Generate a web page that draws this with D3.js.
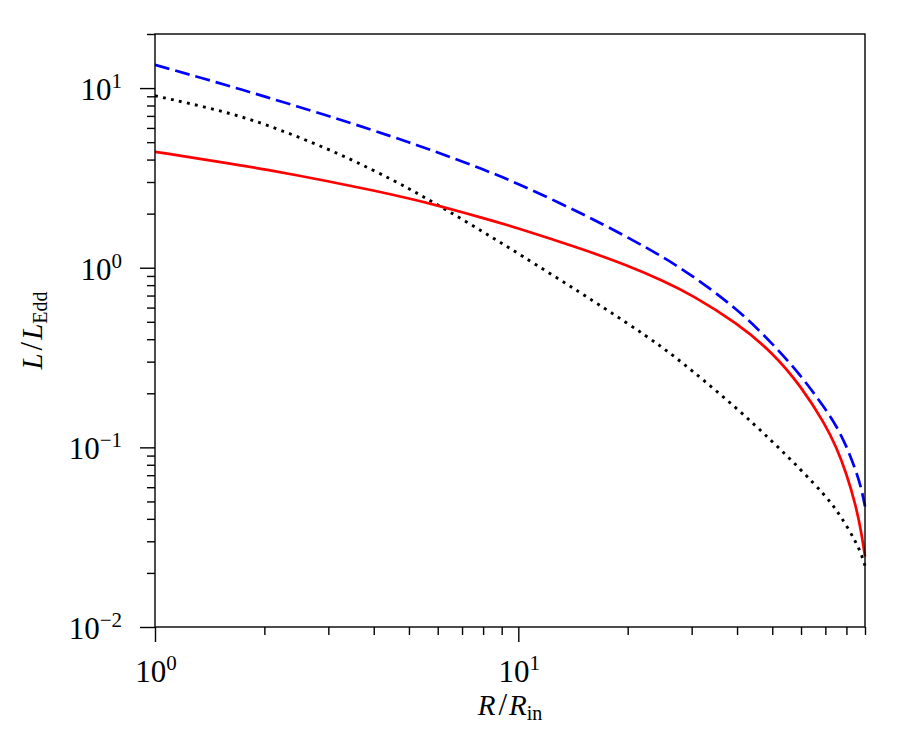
<!DOCTYPE html>
<html lang="en">
<head>
    <meta charset="utf-8">
    <title>L / L_Edd vs R / R_in</title>
    <script type="text/javascript" src="https://cdn.jsdelivr.net/npm/d3@7/dist/d3.min.js"></script>
    <style>
      body { margin: 0; background: #fff; }
      text { font-family: "Liberation Serif", "DejaVu Serif", serif; fill: #000; }
    </style>
</head>

<body>

  <script>
  	var w = 900;
  	var h = 750;

  	var radius = [1, 1.5, 2, 3, 4, 5, 6, 8, 10, 15, 20, 25, 30, 40, 50, 60, 70, 75, 80, 85, 88, 90];

  	// blue dashed
  	var lum_dashed = [13.46, 10.69, 8.99, 7.00, 5.81, 4.99, 4.39, 3.53, 2.94, 2.00, 1.48, 1.148, 0.910, 0.592, 0.380, 0.251, 0.164, 0.132, 0.102, 0.0741, 0.0589, 0.0468];
  	// red solid
  	var lum_solid = [4.42, 3.89, 3.54, 3.03, 2.69, 2.43, 2.22, 1.89, 1.66, 1.27, 1.03, 0.847, 0.708, 0.492, 0.339, 0.219, 0.134, 0.1007, 0.0719, 0.0471, 0.0335, 0.0247];
  	// black dotted
  	var lum_dotted = [9.06, 7.55, 6.35, 4.59, 3.49, 2.76, 2.24, 1.585, 1.20, 0.716, 0.490, 0.360, 0.269, 0.165, 0.108, 0.0750, 0.0538, 0.0450, 0.0368, 0.0296, 0.0254, 0.0219];

  	var x_major = [1, 10];
  	var x_minor = [2, 3, 4, 5, 6, 7, 8, 9, 20, 30, 40, 50, 60, 70, 80, 90];
  	var y_major = [0.01, 0.1, 1, 10];
  	var y_minor = [0.02, 0.03, 0.04, 0.05, 0.06, 0.07, 0.08, 0.09,
  	               0.2, 0.3, 0.4, 0.5, 0.6, 0.7, 0.8, 0.9,
  	               2, 3, 4, 5, 6, 7, 8, 9, 20];
  	var x_exps = ["0", "1"];
  	var y_exps = ["\u22122", "\u22121", "0", "1"];

  	// plot box (note: "top" is taken by window.top)
  	var pl = 155, pr = 865, pt = 34, pb = 627;

  	var x = d3.scaleLog().domain([1, 90]).range([pl, pr]);
  	var y = d3.scaleLog().domain([0.01, 20]).range([pb, pt]);

  	var svg = d3.select("body")
  				.append("svg")
  				.attr("width", w)
  				.attr("height", h);

  	svg.append("defs").append("clipPath")
  	   .attr("id", "plotclip")
  	   .append("rect")
  	   .attr("x", pl)
  	   .attr("y", pt - 2)
  	   .attr("width", pr - pl + 2)
  	   .attr("height", pb - pt + 4);

  	/// CURVES
  	// basis spline: smooths the small reading errors of the picked values
  	var line = d3.line()
  				 .x(function(d) { return x(d[0]); })
  				 .y(function(d) { return y(d[1]); })
  				 .curve(d3.curveBasis);

  	var curves = svg.append("g")
  					.attr("clip-path", "url(#plotclip)");

  	function pairs(vals) {
  		return radius.map(function(r, i) { return [r, vals[i]]; });
  	}

  	curves.append("path")
  		  .attr("d", line(pairs(lum_dotted)))
  		  .attr("fill", "none")
  		  .attr("stroke", "black")
  		  .attr("stroke-width", 2.9)
  		  .attr("stroke-dasharray", "2.9,5.3");

  	curves.append("path")
  		  .attr("d", line(pairs(lum_solid)))
  		  .attr("fill", "none")
  		  .attr("stroke", "#ff0000")
  		  .attr("stroke-width", 2.7);

  	curves.append("path")
  		  .attr("d", line(pairs(lum_dashed)))
  		  .attr("fill", "none")
  		  .attr("stroke", "#0000ff")
  		  .attr("stroke-width", 2.7)
  		  .attr("stroke-dasharray", "15,6");

  	/// AXES
  	var xAxisMajor = d3.axisBottom(x).tickValues(x_major).tickSize(15).tickFormat("");
  	var xAxisMinor = d3.axisBottom(x).tickValues(x_minor).tickSize(8).tickFormat("");
  	var yAxisMajor = d3.axisLeft(y).tickValues(y_major).tickSize(15).tickFormat("");
  	var yAxisMinor = d3.axisLeft(y).tickValues(y_minor).tickSize(8).tickFormat("");

  	[xAxisMajor, xAxisMinor].forEach(function(ax) {
  		svg.append("g")
  		   .attr("class", "axis")
  		   .attr("transform", "translate(0," + pb + ")")
  		   .call(ax);
  	});
  	[yAxisMajor, yAxisMinor].forEach(function(ax) {
  		svg.append("g")
  		   .attr("class", "axis")
  		   .attr("transform", "translate(" + pl + ",0)")
  		   .call(ax);
  	});
  	svg.selectAll(".axis .domain").remove();
  	svg.selectAll(".axis line")
  	   .attr("stroke", "black")
  	   .attr("stroke-width", 1.4);

  	// frame
  	svg.append("rect")
  	   .attr("x", pl)
  	   .attr("y", pt)
  	   .attr("width", pr - pl)
  	   .attr("height", pb - pt)
  	   .attr("fill", "none")
  	   .attr("stroke", "black")
  	   .attr("stroke-width", 1.4);

  	/// TICK LABELS
  	x_major.forEach(function(v, i) {
  		var t = svg.append("text")
  				   .attr("x", x(v) + 1)
  				   .attr("y", 682)
  				   .attr("text-anchor", "middle")
  				   .attr("font-size", 31);
  		t.append("tspan").text("10");
  		t.append("tspan").attr("dy", -12).attr("font-size", 21).text(x_exps[i]);
  	});

  	y_major.forEach(function(v, i) {
  		var t = svg.append("text")
  				   .attr("x", 122)
  				   .attr("y", y(v) + 12)
  				   .attr("text-anchor", "end")
  				   .attr("font-size", 31);
  		t.append("tspan").text("10");
  		t.append("tspan").attr("dy", -12).attr("font-size", 21).text(y_exps[i]);
  	});

  	/// AXIS TITLES
  	function title(sel, a, b, sub) {
  		sel.append("tspan").attr("font-style", "italic").text(a);
  		sel.append("tspan").attr("dx", 3).attr("font-size", 31).text("/");
  		sel.append("tspan").attr("dx", 2).attr("font-style", "italic").text(b);
  		sel.append("tspan").attr("dy", 5).attr("font-size", 20).text(sub);
  	}

  	var xt = svg.append("text")
  				.attr("x", (pl + pr) / 2)
  				.attr("y", 715)
  				.attr("text-anchor", "middle")
  				.attr("font-size", 29);
  	title(xt, "R", "R", "in");

  	var yt = svg.append("text")
  				.attr("transform", "translate(42," + ((pt + pb) / 2) + ") rotate(-90)")
  				.attr("text-anchor", "middle")
  				.attr("font-size", 29);
  	title(yt, "L", "L", "Edd");

  </script>

</body>

</html>
